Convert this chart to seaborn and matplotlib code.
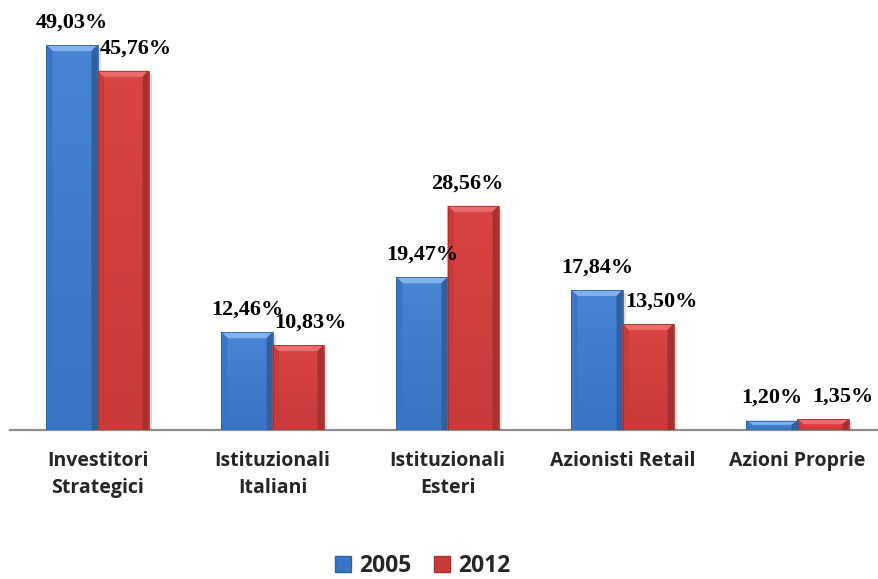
import matplotlib
matplotlib.use("Agg")
import matplotlib.pyplot as plt
from matplotlib.patches import Polygon, Patch
from matplotlib.colors import LinearSegmentedColormap
import seaborn as sns
import pandas as pd
import numpy as np

categories = ["Investitori\nStrategici", "Istituzionali\nItaliani", "Istituzionali\nEsteri",
              "Azionisti Retail", "Azioni Proprie"]
years = ["2005", "2012"]
values_2005 = [49.03, 12.46, 19.47, 17.84, 1.20]
values_2012 = [45.76, 10.83, 28.56, 13.50, 1.35]
value_labels_2005 = ["49,03%", "12,46%", "19,47%", "17,84%", "1,20%"]
value_labels_2012 = ["45,76%", "10,83%", "28,56%", "13,50%", "1,35%"]

df = pd.DataFrame({
    "categoria": categories * 2,
    "anno": [years[0]] * 5 + [years[1]] * 5,
    "quota": values_2005 + values_2012,
})

face = {"2005": "#3a74c4", "2012": "#c93a3a"}
light = {"2005": "#7fb2ee", "2012": "#ec6b6b"}
dark = {"2005": "#30619f", "2012": "#a83030"}
mid = {"2005": "#4884d4", "2012": "#d94444"}

sns.set_theme(style="white")
W, H = 879, 579
fig = plt.figure(figsize=(W / 100, H / 100), dpi=100)
ax = fig.add_axes([10 / W, (H - 430) / H, 875 / W, 430 / H])

sns.barplot(data=df, x="categoria", y="quota", hue="anno", hue_order=years,
            palette=face, width=0.583, gap=0, saturation=1, legend=False,
            edgecolor="none", ax=ax, zorder=3)

ymax = 430 / 7.85
ax.set_xlim(-0.5, 4.5)
ax.set_ylim(0, ymax)

# pixel -> data scale for the bevel
px_x = 1.0 / 175.0
px_y = ymax / 430.0
bev = 6

bars = [p for p in ax.patches]
n = len(categories)
for i, p in enumerate(bars):
    yr = years[0] if i < n else years[1]
    x0, y0 = p.get_x(), p.get_y()
    w, h = p.get_width(), p.get_height()
    x1, y1 = x0 + w, y0 + h
    bx = bev * px_x
    by = min(bev * px_y, h * 0.45)
    # drop shadow
    ax.add_patch(Polygon([(x0 + 2 * px_x, y0), (x1 + 3 * px_x, y0), (x1 + 3 * px_x, y1 - 3 * px_y),
                          (x0 + 2 * px_x, y1 - 3 * px_y)], closed=True,
                         facecolor="#00000022", edgecolor="none", zorder=2))
    # main face with a soft vertical gradient
    grad = np.linspace(0, 1, 64).reshape(-1, 1)
    cmap = LinearSegmentedColormap.from_list("g", [face[yr], mid[yr]])
    ax.imshow(grad, extent=(x0 + bx, x1 - bx, y0, y1 - by), origin="lower",
              cmap=cmap, aspect="auto", zorder=3.5)
    # bevels
    ax.add_patch(Polygon([(x0, y1), (x1, y1), (x1 - bx, y1 - by), (x0 + bx, y1 - by)],
                         closed=True, facecolor=light[yr], edgecolor="none", zorder=4))
    ax.add_patch(Polygon([(x0, y0), (x0, y1), (x0 + bx, y1 - by), (x0 + bx, y0)],
                         closed=True, facecolor=face[yr], edgecolor="none", zorder=4))
    ax.add_patch(Polygon([(x1, y0), (x1, y1), (x1 - bx, y1 - by), (x1 - bx, y0)],
                         closed=True, facecolor=dark[yr], edgecolor="none", zorder=4))
    ax.add_patch(Polygon([(x0, y0), (x0, y1), (x1, y1), (x1, y0)], closed=True,
                         facecolor="none", edgecolor=dark[yr], linewidth=0.6, zorder=4.5))
ax.set_xlim(-0.5, 4.5)
ax.set_ylim(0, ymax)

# value labels, a few nudged sideways where neighbouring labels would collide
nudge_2005 = [0, 0, 0, 0, 0]
nudge_2012 = [9, 9, -4, 10, 14]
for i, p in enumerate(bars):
    if i < n:
        txt, dx = value_labels_2005[i], nudge_2005[i]
    else:
        txt, dx = value_labels_2012[i - n], nudge_2012[i - n]
    ax.annotate(txt, (p.get_x() + p.get_width() / 2, p.get_height()),
                xytext=(dx, 9), textcoords="offset points", ha="center", va="bottom",
                fontsize=16, fontweight="bold", family="Liberation Serif",
                color="black", annotation_clip=False, zorder=6)

# axis styling
for s in ["top", "right", "left"]:
    ax.spines[s].set_visible(False)
ax.spines["bottom"].set_color("#8c8c8c")
ax.spines["bottom"].set_linewidth(1.6)
ax.set_yticks([])
ax.set_xlabel("")
ax.set_ylabel("")
ax.set_xticks(range(n))
ax.set_xticklabels(categories, fontsize=14, fontweight="bold", family="Open Sans",
                   linespacing=1.5)
ax.tick_params(axis="x", which="major", length=0, pad=15)
ax.set_xticks([-0.5, 0.5, 1.5, 2.5, 3.5, 4.5], minor=True)
ax.tick_params(axis="x", which="minor", length=7, width=1.6, color="#8c8c8c", direction="out")
for lbl in ax.get_xticklabels():
    lbl.set_va("top")

handles = [Patch(facecolor=face[y], edgecolor=dark[y], label=y) for y in years]
fig.legend(handles=handles, loc="center", bbox_to_anchor=(423 / W, 1 - 566 / H),
           ncol=2, frameon=False, prop={"family": "Open Sans", "weight": "bold", "size": 16.5},
           handlelength=0.7, handleheight=0.7, handletextpad=0.35, columnspacing=1.0)

fig.savefig("out.png", dpi=100)
